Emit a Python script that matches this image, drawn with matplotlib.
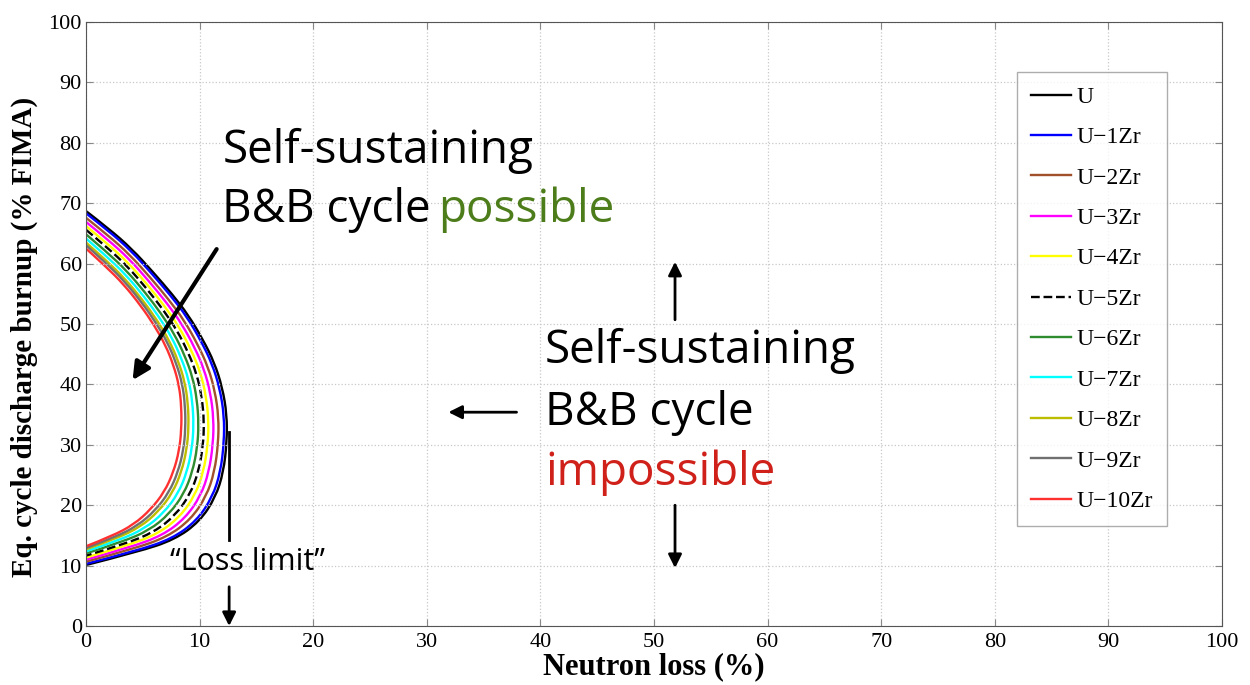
import numpy as np
import matplotlib.pyplot as plt
from matplotlib.path import Path
from matplotlib.patches import PathPatch
from matplotlib.lines import Line2D

# equilibrium-cycle burnup limits vs. neutron loss, one curve per alloy
labels = ['U', 'U−1Zr', 'U−2Zr', 'U−3Zr', 'U−4Zr', 'U−5Zr',
          'U−6Zr', 'U−7Zr', 'U−8Zr', 'U−9Zr', 'U−10Zr']
colors = ['#000000', '#0000ff', '#a0502a', '#ff00ff', '#ffff00', '#000000',
          '#2e8b2e', '#00ffff', '#bdbd00', '#707070', '#ff3030']
styles = ['-', '-', '-', '-', '-', '--', '-', '-', '-', '-', '-']

u_x = [0, 2.0, 4.0, 5.9, 7.6, 9.0, 10.3, 11.3, 12.0, 12.4, 12.4, 12.1, 11.4, 10.0, 7.8, 4.6, 0]
u_y = [68.7, 65.8, 62.5, 58.6, 54.9, 51.5, 47.4, 43.6, 39.5, 35.0, 30.5, 25.5, 21.3, 17.3, 14.3, 12.3, 10.1]

zr1_x = [0, 1.98, 3.96, 5.83, 7.50, 8.88, 10.14, 11.11, 11.78, 12.16, 12.15, 11.84, 11.13, 9.74, 7.58, 4.46, 0]
zr1_y = [68.33, 65.43, 62.15, 58.27, 54.59, 51.2, 47.15, 43.37, 39.31, 34.85, 30.41, 25.5, 21.35, 17.42, 14.45, 12.46, 10.29]

zr2_x = [0, 1.95, 3.87, 5.70, 7.31, 8.64, 9.83, 10.74, 11.35, 11.68, 11.64, 11.31, 10.59, 9.23, 7.15, 4.19, 0]
zr2_y = [67.58, 64.68, 61.44, 57.61, 53.98, 50.6, 46.64, 42.92, 38.92, 34.55, 30.23, 25.5, 21.46, 17.66, 14.75, 12.77, 10.66]

zr3_x = [0, 1.91, 3.80, 5.58, 7.14, 8.42, 9.55, 10.40, 10.96, 11.24, 11.18, 10.82, 10.10, 8.75, 6.76, 3.93, 0]
zr3_y = [66.90, 64.00, 60.79, 57.01, 53.42, 50.05, 46.18, 42.50, 38.57, 34.28, 30.07, 25.5, 21.56, 17.88, 15.03, 13.05, 11.0]

zr4_x = [0, 1.88, 3.72, 5.46, 6.96, 8.2, 9.26, 10.06, 10.56, 10.8, 10.72, 10.34, 9.6, 8.28, 6.36, 3.68, 0]
zr4_y = [66.22, 63.32, 60.14, 56.4, 52.86, 49.5, 45.72, 42.08, 38.22, 34.0, 29.9, 25.5, 21.66, 18.1, 15.3, 13.34, 11.34]

zr5_x = [0, 1.85, 3.65, 5.35, 6.8, 8.0, 9.0, 9.75, 10.2, 10.4, 10.3, 9.9, 9.15, 7.85, 6.0, 3.45, 0]
zr5_y = [65.6, 62.7, 59.55, 55.85, 52.35, 49.0, 45.3, 41.7, 37.9, 33.75, 29.75, 25.5, 21.75, 18.3, 15.55, 13.6, 11.65]

zr6_x = [0, 1.81, 3.57, 5.22, 6.61, 7.76, 8.69, 9.38, 9.77, 9.92, 9.80, 9.37, 8.61, 7.33, 5.57, 3.17, 0]
zr6_y = [64.86, 61.96, 58.84, 55.19, 51.74, 48.4, 44.80, 41.24, 37.52, 33.45, 29.57, 25.5, 21.86, 18.54, 15.85, 13.91, 12.02]

zr7_x = [0, 1.78, 3.49, 5.10, 6.43, 7.54, 8.40, 9.04, 9.37, 9.48, 9.33, 8.89, 8.12, 6.86, 5.17, 2.92, 0]
zr7_y = [64.17, 61.27, 58.19, 54.59, 51.18, 47.85, 44.33, 40.83, 37.16, 33.18, 29.41, 25.5, 21.96, 18.76, 16.13, 14.20, 12.36]

zr8_x = [0, 1.75, 3.41, 4.98, 6.26, 7.32, 8.12, 8.70, 8.98, 9.04, 8.87, 8.40, 7.62, 6.39, 4.78, 2.67, 0]
zr8_y = [63.49, 60.59, 57.54, 53.98, 50.62, 47.3, 43.87, 40.41, 36.81, 32.9, 29.24, 25.5, 22.06, 18.98, 16.4, 14.48, 12.70]

zr9_x = [0, 1.73, 3.36, 4.90, 6.14, 7.18, 7.93, 8.48, 8.72, 8.76, 8.58, 8.10, 7.31, 6.09, 4.52, 2.51, 0]
zr9_y = [63.06, 60.16, 57.13, 53.60, 50.26, 46.95, 43.58, 40.14, 36.59, 32.73, 29.14, 25.5, 22.12, 19.12, 16.58, 14.67, 12.92]

zr10_x = [0, 1.7, 3.3, 4.8, 6.0, 7.0, 7.7, 8.2, 8.4, 8.4, 8.2, 7.7, 6.9, 5.7, 4.2, 2.3, 0]
zr10_y = [62.5, 59.6, 56.6, 53.1, 49.8, 46.5, 43.2, 39.8, 36.3, 32.5, 29.0, 25.5, 22.2, 19.3, 16.8, 14.9, 13.2]

curves_x = [u_x, zr1_x, zr2_x, zr3_x, zr4_x, zr5_x, zr6_x, zr7_x, zr8_x, zr9_x, zr10_x]
curves_y = [u_y, zr1_y, zr2_y, zr3_y, zr4_y, zr5_y, zr6_y, zr7_y, zr8_y, zr9_y, zr10_y]

ticks = list(range(0, 101, 10))


def smooth_path(xs, ys):
    # quadratic bezier through the read points (points used as control points)
    pts = np.column_stack([xs, ys])
    verts = [pts[0]]
    codes = [Path.MOVETO]
    n = len(pts)
    for i in range(1, n - 1):
        end = (pts[i] + pts[i + 1]) / 2 if i < n - 2 else pts[i + 1]
        verts += [pts[i], end]
        codes += [Path.CURVE3, Path.CURVE3]
    return Path(verts, codes)


plt.rcParams['font.family'] = ['Liberation Serif', 'DejaVu Serif']
sans = ['Open Sans', 'DejaVu Sans']

fig = plt.figure(figsize=(12.5, 6.85), dpi=100)
ax = fig.add_axes([0.0688, 0.0861, 0.9088, 0.8818])

handles = []
for cx, cy, lab, col, ls in zip(curves_x, curves_y, labels, colors, styles):
    ax.add_patch(PathPatch(smooth_path(cx, cy), fill=False, edgecolor=col,
                           linestyle=ls, lw=1.7))
    handles.append(Line2D([], [], color=col, linestyle=ls, lw=1.7, label=lab))

ax.set_xlim(0, 100)
ax.set_ylim(0, 100)
ax.set_xticks(ticks)
ax.set_yticks(ticks)
ax.grid(True, linestyle=':', color='#c8c8c8', lw=0.9)
ax.tick_params(direction='in', top=True, right=True, length=5, color='#888888',
               labelsize=16)
ax.tick_params(axis='x', pad=5)
ax.tick_params(axis='y', pad=3)
for sp in ax.spines.values():
    sp.set_color('#555555')

ax.set_xlabel('Neutron loss (%)', fontsize=22, fontweight='bold', labelpad=0)
ax.set_ylabel('Eq. cycle discharge burnup (% FIMA)', fontsize=21, fontweight='bold')
ax.yaxis.set_label_coords(-0.042, 0.478)

leg = ax.legend(handles=handles, loc='upper right', bbox_to_anchor=(0.952, 0.917),
                borderaxespad=0, fancybox=False, edgecolor='#999999', fontsize=17,
                handlelength=1.7, handletextpad=0.25, labelspacing=0.8, borderpad=0.6)
leg.get_frame().set_linewidth(1.0)

# annotations
ax.text(12.0, 76.7, 'Self-sustaining', fontsize=33, family=sans, va='baseline')
ax.text(12.0, 66.9, 'B&B cycle', fontsize=33, family=sans, va='baseline')
ax.text(31.0, 66.9, 'possible', fontsize=33, family=sans, va='baseline', color='#4d7c1b')

ax.text(40.4, 43.5, 'Self-sustaining', fontsize=33, family=sans, va='baseline')
ax.text(40.4, 33.3, 'B&B cycle', fontsize=33, family=sans, va='baseline')
ax.text(40.4, 23.3, 'impossible', fontsize=33, family=sans, va='baseline', color='#d0201a')

ax.text(14.2, 9.3, '“Loss limit”', fontsize=22, family=sans, va='baseline', ha='center')

arrow = dict(arrowstyle='-|>', color='k', lw=2, mutation_scale=20, shrinkA=0, shrinkB=0)
ax.annotate('', xy=(4.1, 40.7), xytext=(11.5, 62.4),
            arrowprops=dict(arrow, lw=3, mutation_scale=26))
ax.annotate('', xy=(51.85, 60.3), xytext=(51.85, 50.7), arrowprops=arrow)
ax.annotate('', xy=(51.85, 9.6), xytext=(51.85, 20.0), arrowprops=arrow)
ax.annotate('', xy=(31.9, 35.4), xytext=(37.9, 35.4), arrowprops=arrow)
ax.annotate('', xy=(12.6, 0), xytext=(12.6, 6.5), arrowprops=arrow)
ax.plot([12.6, 12.6], [14.2, 32.1], color='k', lw=2)

fig.savefig('out.png', dpi=100)
